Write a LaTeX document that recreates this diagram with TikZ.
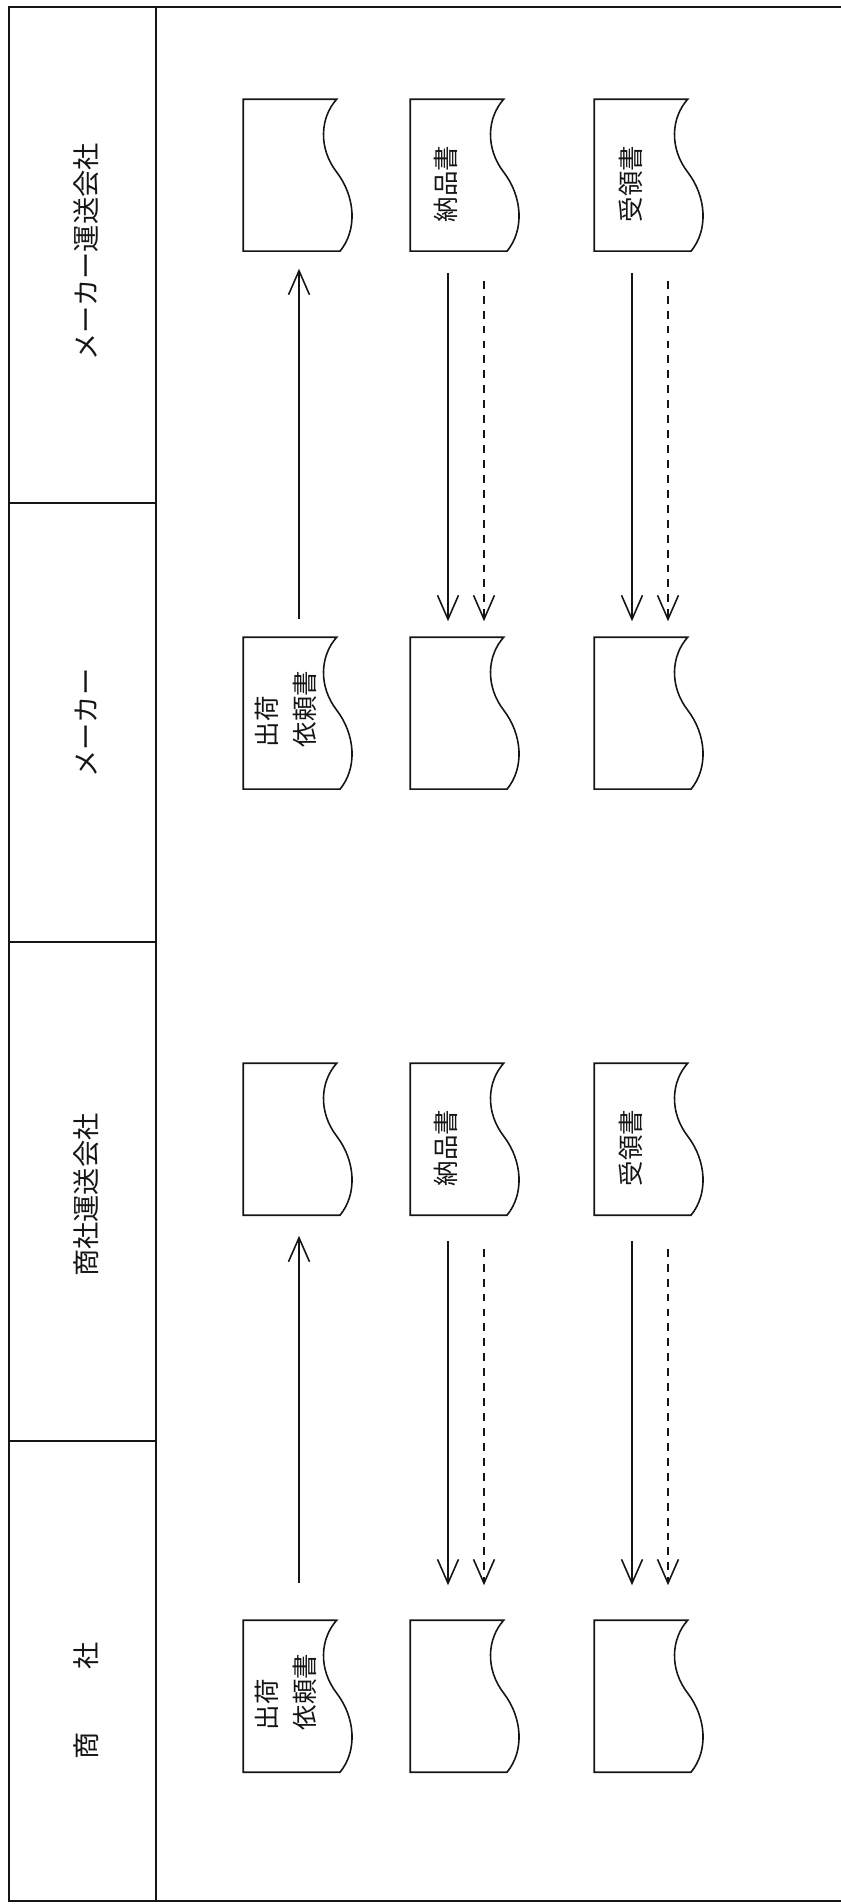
\documentclass[tikz,border=0pt]{standalone}
\usepackage{fontspec}
\setmainfont{Noto Sans CJK JP}
\usetikzlibrary{arrows.meta}
\definecolor{ink}{HTML}{151515}

\begin{document}
\begin{tikzpicture}[
  x=0.02cm,y=-0.02cm,
  color=ink,line width=.9pt,
  arrow/.style={-{Straight Barb[length=4.8mm,width=4.2mm]},line width=.9pt},
  dasharrow/.style={arrow,dash pattern=on 4.5pt off 4pt},
  header/.style={rotate=90,font=\fontsize{15.5}{18}\selectfont},
  docbox/.style={minimum width=2.2cm,minimum height=3.04cm,inner sep=0pt},
  doctext/.style={rotate=90,align=left,inner sep=0pt,
    font=\fontsize{14.5}{21.5}\selectfont}
]
  \useasboundingbox (0,0) rectangle (841,1904);
  % frame and header column
  \draw (841,7) -- (9,7) -- (9,1901) -- (841,1901);
  \draw (156,7) -- (156,1901);
  \foreach \y in {503,942,1441}
    \draw (9,\y) -- (156,\y);
  \node[header] (hmt) at (86,252) {メーカー運送会社};
  \node[header] (hmk) at (86,723) {メーカー};
  \node[header] (hst) at (86,1195) {商社運送会社};
  \node[header] (hsh) at (86,1701) {商\hspace{2.3em}社};

  % document symbols
  \foreach \n/\x/\y in {mt1/299/176,mt2/466/176,mt3/650/176,
                        mk1/299/714,mk2/466/714,mk3/650/714,
                        st1/299/1140,st2/466/1140,st3/650/1140,
                        sh1/299/1697,sh2/466/1697,sh3/650/1697}{
    \node[docbox] (\n) at (\x,\y) {};
    \begin{scope}[shift={(\n.north west)},x=2.2cm,y=-3.04cm]
      \draw (0,0) -- (.85,0) .. controls (.70,.12) and (.68,.32) .. (.85,.48)
        .. controls (1.02,.64) and (1.04,.86) .. (.88,1) -- (0,1) -- cycle;
    \end{scope}
  }
  \foreach \n in {mt2,st2}
    \node[doctext] (\n-t) at ([xshift=-4mm,yshift=-1.6mm]\n.center) {納品書};
  \foreach \n in {mt3,st3}
    \node[doctext] (\n-t) at ([xshift=-3.8mm,yshift=-1.6mm]\n.center) {受領書};
  \foreach \n in {mk1,sh1}
    \node[doctext] (\n-t) at ([xshift=-2.6mm,yshift=1mm]\n.center) {出荷\\依頼書};

  % flows between the two sides
  \foreach \u/\l/\a/\b/\c/\d/\e in {mt/mk/3.2mm/3.6mm/4mm/5.6mm/3.2mm,
                                    st/sh/3.8mm/7.4mm/4.8mm/6.4mm/7mm}{
    \draw[arrow,shorten <=\b,shorten >=\a] (\l1.north) -- (\u1.south);
    \foreach \k in {2,3}{
      \draw[arrow,shorten <=\c,shorten >=\e]
        ([xshift=-3.6mm]\u\k.south) -- ([xshift=-3.6mm]\l\k.north);
      \draw[dasharrow,shorten <=\d,shorten >=\e]
        ([xshift=3.6mm]\u\k.south) -- ([xshift=3.6mm]\l\k.north);
    }
  }
\end{tikzpicture}
\end{document}
